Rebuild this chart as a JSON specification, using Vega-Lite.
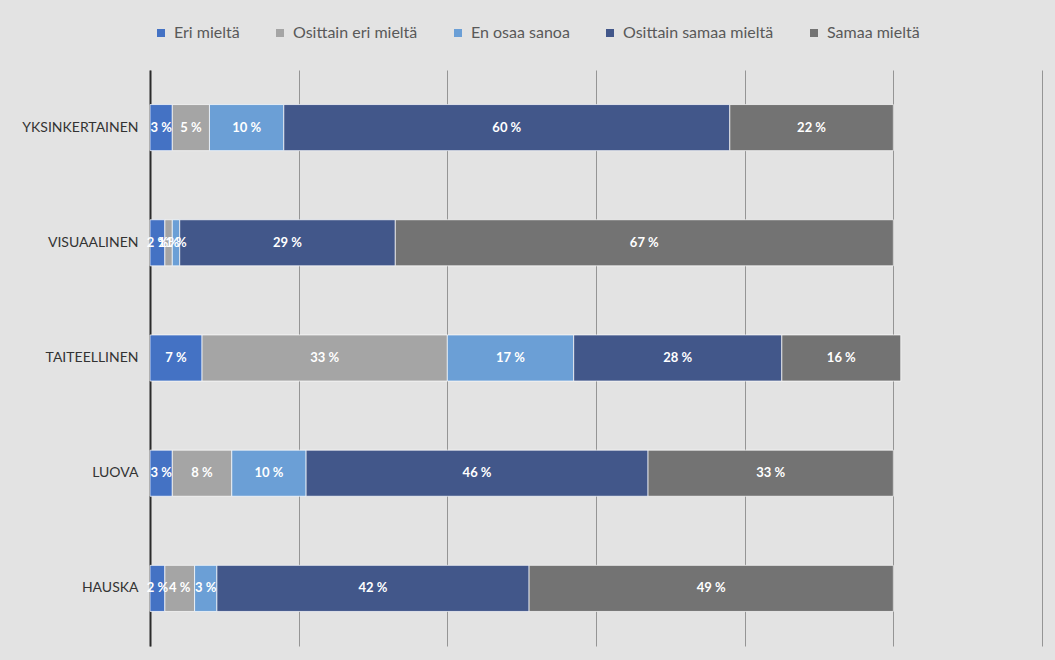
{
  "$schema": "https://vega.github.io/schema/vega-lite/v6.json",
  "autosize": "none",
  "width": 892,
  "height": 576,
  "padding": {"left": 150, "top": 70, "right": 13, "bottom": 14},
  "background": "#e3e3e3",
  "config": {
    "view": {"stroke": null},
    "font": "Lato"
  },
  "data": {
    "values": [
      {"kohde": "YKSINKERTAINEN", "vastaus": "Eri mieltä", "o": 1, "p": 3},
      {"kohde": "YKSINKERTAINEN", "vastaus": "Osittain eri mieltä", "o": 2, "p": 5},
      {"kohde": "YKSINKERTAINEN", "vastaus": "En osaa sanoa", "o": 3, "p": 10},
      {"kohde": "YKSINKERTAINEN", "vastaus": "Osittain samaa mieltä", "o": 4, "p": 60},
      {"kohde": "YKSINKERTAINEN", "vastaus": "Samaa mieltä", "o": 5, "p": 22},
      {"kohde": "VISUAALINEN", "vastaus": "Eri mieltä", "o": 1, "p": 2},
      {"kohde": "VISUAALINEN", "vastaus": "Osittain eri mieltä", "o": 2, "p": 1},
      {"kohde": "VISUAALINEN", "vastaus": "En osaa sanoa", "o": 3, "p": 1},
      {"kohde": "VISUAALINEN", "vastaus": "Osittain samaa mieltä", "o": 4, "p": 29},
      {"kohde": "VISUAALINEN", "vastaus": "Samaa mieltä", "o": 5, "p": 67},
      {"kohde": "TAITEELLINEN", "vastaus": "Eri mieltä", "o": 1, "p": 7},
      {"kohde": "TAITEELLINEN", "vastaus": "Osittain eri mieltä", "o": 2, "p": 33},
      {"kohde": "TAITEELLINEN", "vastaus": "En osaa sanoa", "o": 3, "p": 17},
      {"kohde": "TAITEELLINEN", "vastaus": "Osittain samaa mieltä", "o": 4, "p": 28},
      {"kohde": "TAITEELLINEN", "vastaus": "Samaa mieltä", "o": 5, "p": 16},
      {"kohde": "LUOVA", "vastaus": "Eri mieltä", "o": 1, "p": 3},
      {"kohde": "LUOVA", "vastaus": "Osittain eri mieltä", "o": 2, "p": 8},
      {"kohde": "LUOVA", "vastaus": "En osaa sanoa", "o": 3, "p": 10},
      {"kohde": "LUOVA", "vastaus": "Osittain samaa mieltä", "o": 4, "p": 46},
      {"kohde": "LUOVA", "vastaus": "Samaa mieltä", "o": 5, "p": 33},
      {"kohde": "HAUSKA", "vastaus": "Eri mieltä", "o": 1, "p": 2},
      {"kohde": "HAUSKA", "vastaus": "Osittain eri mieltä", "o": 2, "p": 4},
      {"kohde": "HAUSKA", "vastaus": "En osaa sanoa", "o": 3, "p": 3},
      {"kohde": "HAUSKA", "vastaus": "Osittain samaa mieltä", "o": 4, "p": 42},
      {"kohde": "HAUSKA", "vastaus": "Samaa mieltä", "o": 5, "p": 49}
    ]
  },
  "transform": [
    {"stack": "p", "groupby": ["kohde"], "sort": [{"field": "o", "order": "ascending"}], "as": ["v0", "v1"]},
    {"calculate": "(datum.v0 + datum.v1) / 2", "as": "mid"},
    {"calculate": "datum.p + ' %'", "as": "label"}
  ],
  "encoding": {
    "y": {
      "field": "kohde",
      "type": "nominal",
      "sort": ["YKSINKERTAINEN", "VISUAALINEN", "TAITEELLINEN", "LUOVA", "HAUSKA"],
      "scale": {"paddingInner": 0.6, "paddingOuter": 0.3},
      "axis": {
        "title": null,
        "ticks": false,
        "domainColor": "#2b2b2b",
        "domainWidth": 2,
        "labelColor": "#333333",
        "labelFontSize": 14,
        "labelFont": "Lato",
        "labelPadding": 12,
        "grid": false
      }
    }
  },
  "layer": [
    {
      "mark": {"type": "bar", "stroke": "#ffffff", "strokeWidth": 1, "strokeOpacity": 0.7},
      "encoding": {
        "x": {
          "field": "v0",
          "type": "quantitative",
          "scale": {"domain": [0, 120], "nice": false},
          "axis": {
            "title": null,
            "labels": false,
            "ticks": false,
            "domain": false,
            "grid": true,
            "gridColor": "#959595",
            "gridWidth": 1,
            "values": [0, 20, 40, 60, 80, 100, 120]
          }
        },
        "x2": {"field": "v1"},
        "color": {
          "field": "vastaus",
          "type": "nominal",
          "sort": ["Eri mieltä", "Osittain eri mieltä", "En osaa sanoa", "Osittain samaa mieltä", "Samaa mieltä"],
          "scale": {
            "domain": ["Eri mieltä", "Osittain eri mieltä", "En osaa sanoa", "Osittain samaa mieltä", "Samaa mieltä"],
            "range": ["#4472C4", "#A5A5A5", "#6B9FD6", "#42578A", "#737373"]
          },
          "legend": {
            "title": null,
            "orient": "none",
            "direction": "horizontal",
            "legendX": 3,
            "legendY": -45,
            "symbolType": "square",
            "symbolSize": 64,
            "symbolStrokeWidth": 0,
            "labelFontSize": 16,
            "labelFont": "Lato",
            "labelColor": "#595959",
            "labelOffset": 5,
            "columnPadding": 32,
            "labelLimit": 300
          }
        }
      }
    },
    {
      "mark": {"type": "text", "color": "#ffffff", "fontWeight": "bold", "fontSize": 13, "font": "Lato"},
      "encoding": {
        "x": {"field": "mid", "type": "quantitative"},
        "text": {"field": "label"}
      }
    }
  ]
}
